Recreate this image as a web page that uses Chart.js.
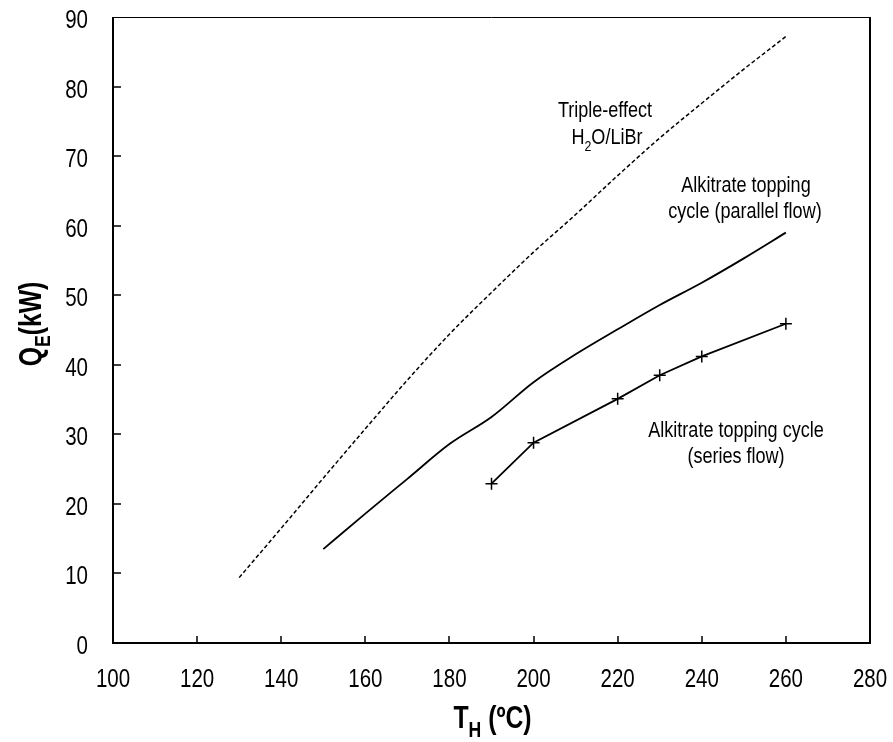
<!DOCTYPE html>
<html>
<head>
<meta charset="utf-8">
<script src="https://cdn.jsdelivr.net/npm/chart.js@4"></script>
<style>
  html, body { margin: 0; padding: 0; background: #fff; }
  #wrap { width: 893px; height: 742px; position: relative; }
</style>
</head>
<body>
<div id="wrap"><canvas id="qeChart"></canvas></div>
<script>
// T_H (ºC) vs evaporator load Q_E (kW)
const tripleT = [130, 140, 150, 160, 170, 180, 190, 200, 210, 220, 230, 240, 250, 260];
const tripleQ = [9.4, 16.5, 23.7, 30.8, 37.8, 44.4, 50.4, 56.2, 61.6, 67.2, 72.6, 77.6, 82.5, 87.2];

const parallelT = [150, 160, 170, 180, 190, 200, 210, 220, 230, 240, 250, 260];
const parallelQ = [13.5, 18.6, 23.6, 28.6, 32.5, 37.5, 41.5, 45.1, 48.6, 51.8, 55.3, 59.0];

const seriesT = [190, 200, 220, 230, 240, 260];
const seriesQ = [22.9, 28.8, 35.1, 38.5, 41.2, 45.9];

const xTicks = [100, 120, 140, 160, 180, 200, 220, 240, 260, 280];
const yTicks = [0, 10, 20, 30, 40, 50, 60, 70, 80, 90];

const FONT = "'Liberation Sans', Arial, sans-serif";
const NARROW = 0.82; // squeeze glyphs horizontally for a condensed face

function pts(xs, ys) {
  return xs.map((x, i) => ({ x: x, y: ys[i] }));
}

// condensed text; parts = [[text, isSubscript], ...]
function label(ctx, parts, x, y, size, opts) {
  opts = opts || {};
  const weight = opts.bold ? "bold " : "";
  const sx = opts.squeeze || NARROW;
  const setFont = sub => { ctx.font = weight + (sub ? Math.round(size * 0.7) : size) + "px " + FONT; };
  let total = 0;
  parts.forEach(p => { setFont(p[1]); total += ctx.measureText(p[0]).width; });
  let cx = 0;
  if (opts.align === "center") cx = -total / 2;
  if (opts.align === "right") cx = -total;
  ctx.save();
  ctx.translate(x, y);
  if (opts.rotate) ctx.rotate(opts.rotate);
  ctx.scale(sx, 1);
  ctx.textAlign = "left";
  ctx.textBaseline = opts.baseline || "alphabetic";
  parts.forEach(p => {
    setFont(p[1]);
    ctx.fillText(p[0], cx, p[1] ? size * 0.3 : 0);
    cx += ctx.measureText(p[0]).width;
  });
  ctx.restore();
}

// frame, inward ticks, labels and notes
const decor = {
  id: "decor",
  afterDraw(chart) {
    const ctx = chart.ctx;
    const xs = chart.scales.x, ys = chart.scales.y;
    const L = xs.left, R = xs.right, T = ys.top, B = ys.bottom;
    ctx.save();
    ctx.strokeStyle = "#000";
    ctx.fillStyle = "#000";

    // box
    ctx.lineWidth = 1;
    ctx.beginPath();
    ctx.moveTo(L, T + 0.5); ctx.lineTo(R, T + 0.5);
    ctx.stroke();
    ctx.lineWidth = 2;
    ctx.beginPath();
    ctx.moveTo(L, T); ctx.lineTo(L, B); ctx.lineTo(R, B); ctx.lineTo(R, T);
    ctx.stroke();

    // ticks pointing into the plot
    ctx.lineWidth = 1.5;
    ctx.beginPath();
    xTicks.slice(1, -1).forEach(v => {
      const px = Math.round(xs.getPixelForValue(v));
      ctx.moveTo(px, B); ctx.lineTo(px, B - 7);
    });
    yTicks.slice(1, -1).forEach(v => {
      const py = Math.round(ys.getPixelForValue(v));
      ctx.moveTo(L, py); ctx.lineTo(L + 8, py);
    });
    ctx.stroke();

    // tick labels
    xTicks.forEach(v => label(ctx, [[String(v), false]], xs.getPixelForValue(v), 687, 25, { align: "center" }));
    yTicks.forEach(v => label(ctx, [[String(v), false]], L - 25, ys.getPixelForValue(v) + 11, 25, { align: "right" }));

    // axis titles
    label(ctx, [["T", false], ["H", true], [" (ºC)", false]], (L + R) / 2 + 1, 728, 31, { bold: true, align: "center", squeeze: 0.8 });
    label(ctx, [["Q", false], ["E", true], ["(kW)", false]], 41, (T + B) / 2 - 6, 31, { bold: true, align: "center", squeeze: 0.8, rotate: -Math.PI / 2 });

    // curve notes
    label(ctx, [["Triple-effect", false]], 605, 117, 22, { align: "center" });
    label(ctx, [["H", false], ["2", true], ["O/LiBr", false]], 607, 144, 22, { align: "center" });
    label(ctx, [["Alkitrate topping", false]], 746, 192, 22, { align: "center" });
    label(ctx, [["cycle (parallel flow)", false]], 745, 218, 22, { align: "center" });
    label(ctx, [["Alkitrate topping cycle", false]], 736, 437, 22, { align: "center" });
    label(ctx, [["(series flow)", false]], 736, 463, 22, { align: "center" });
    ctx.restore();
  }
};

const ctx = document.getElementById("qeChart").getContext("2d");
new Chart(ctx, {
  type: "scatter",
  data: {
    datasets: [
      {
        label: "Triple-effect H2O/LiBr",
        data: pts(tripleT, tripleQ),
        showLine: true,
        borderColor: "#000",
        borderWidth: 1.5,
        borderDash: [4, 2.5],
        cubicInterpolationMode: "monotone",
        pointRadius: 0
      },
      {
        label: "Alkitrate topping cycle (parallel flow)",
        data: pts(parallelT, parallelQ),
        showLine: true,
        borderColor: "#000",
        borderWidth: 1.8,
        cubicInterpolationMode: "monotone",
        pointRadius: 0
      },
      {
        label: "Alkitrate topping cycle (series flow)",
        data: pts(seriesT, seriesQ),
        showLine: true,
        borderColor: "#000",
        borderWidth: 1.8,
        tension: 0,
        pointStyle: "cross",
        pointRadius: 6,
        pointBorderWidth: 1.5,
        pointBorderColor: "#000"
      }
    ]
  },
  options: {
    responsive: true,
    maintainAspectRatio: false,
    animation: false,
    layout: { padding: { top: 17, right: 23, left: 0, bottom: 0 } },
    plugins: {
      legend: { display: false },
      tooltip: { enabled: false }
    },
    scales: {
      x: {
        type: "linear",
        min: 100,
        max: 280,
        ticks: { display: false, stepSize: 20 },
        grid: { display: false },
        border: { display: false },
        afterFit(scale) { scale.height = 99; }
      },
      y: {
        min: 0,
        max: 90,
        ticks: { display: false, stepSize: 10 },
        grid: { display: false },
        border: { display: false },
        afterFit(scale) { scale.width = 113; }
      }
    }
  },
  plugins: [decor]
});
</script>
</body>
</html>
